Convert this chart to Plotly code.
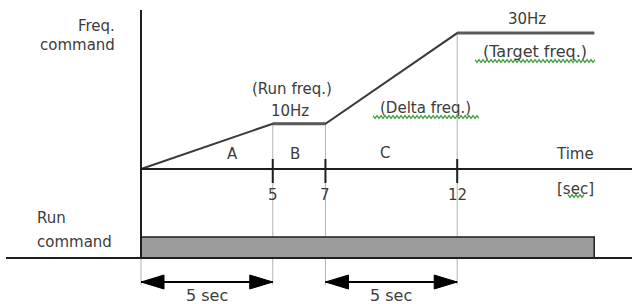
import plotly.graph_objects as go

# ---------------- data ----------------
times = [0, 5, 7, 12, 17.2]          # s
freq_cmd = [0, 10, 10, 30, 30]       # Hz
tick_times = [5, 7, 12]
tick_labels = ["5", "7", "12"]
run_start = 0
run_end = 17.2
intervals = [(0, 5), (7, 12)]
interval_labels = ["5 sec", "5 sec"]
run_freq = 10
target_freq = 30

# ---------------- geometry helpers (pixel -> data) ----------------
W, H = 632, 304
X0, SX = 141.0, 26.35     # px of t=0, px per second
Y0, SY = 169.0, 4.53      # px of f=0, px per Hz


def tx(px):
    return (px - X0) / SX


def fy(py):
    return (Y0 - py) / SY


def dx(px):
    return px / SX


def dy(px):
    return px / SY


DARK = "#1e1e1e"
TXT = "#3c3c3c"
THIN = "#b4b4b4"
FONT = "DejaVu Sans"

fig = go.Figure()

shapes = []
# thin guide lines (drawn first, below everything)
guide_bottom = fy(285)
for t, f in zip(times[1:4], freq_cmd[1:4]):
    shapes.append(dict(type="line", x0=t, x1=t, y0=f, y1=guide_bottom,
                       line=dict(color=THIN, width=1), layer="below"))
shapes.append(dict(type="line", x0=run_start, x1=run_start, y0=fy(258), y1=guide_bottom,
                   line=dict(color=THIN, width=1), layer="below"))

# run-command bar
bar_top, bar_bot = fy(237), fy(258)
shapes.append(dict(type="rect", x0=run_start, x1=run_end, y0=bar_bot, y1=bar_top,
                   fillcolor="#9c9c9c", line=dict(color=DARK, width=1.5)))
# baseline of run command
shapes.append(dict(type="line", x0=tx(6), x1=tx(W + 2), y0=bar_bot, y1=bar_bot,
                   line=dict(color=DARK, width=2)))
# time axis
shapes.append(dict(type="line", x0=0, x1=tx(W + 2), y0=0, y1=0,
                   line=dict(color=DARK, width=2)))
# frequency axis (vertical)
shapes.append(dict(type="line", x0=0, x1=0, y0=fy(10), y1=bar_bot,
                   line=dict(color=DARK, width=2)))
# tick marks
for t in tick_times:
    shapes.append(dict(type="line", x0=t, x1=t, y0=fy(159), y1=fy(183),
                       line=dict(color=DARK, width=2)))


# green "spell-check" squiggles under some labels (pixel positions)
def squiggle(x1, x2, y, step=2.0, amp=1.4):
    pts = []
    x, k = x1, 0
    while x <= x2:
        yy = y + (amp if k % 2 else -amp)
        pts.append(f"{x / W:.5f},{1 - yy / H:.5f}")
        x += step
        k += 1
    return dict(type="path", xref="paper", yref="paper",
                path="M" + "L".join(pts), line=dict(color="#3f9f3f", width=1.2))


shapes.append(squiggle(373, 479, 117))
shapes.append(squiggle(475, 595, 61))
shapes.append(squiggle(568, 584, 196))

fig.update_layout(shapes=shapes)

# frequency command curve
fig.add_trace(go.Scatter(x=times, y=freq_cmd, mode="lines",
                         line=dict(color="#3a3a3a", width=2), hoverinfo="skip"))
# flat (constant-speed) parts are drawn a bit thicker/greyer
fig.add_trace(go.Scatter(x=times[1:3], y=freq_cmd[1:3], mode="lines",
                         line=dict(color="#5a5a5a", width=3), hoverinfo="skip"))
fig.add_trace(go.Scatter(x=times[3:5], y=freq_cmd[3:5], mode="lines",
                         line=dict(color="#5a5a5a", width=3), hoverinfo="skip"))

# double arrows
arrow_y = fy(282)
head_len, head_half = dx(23), dy(7)
for a, b in intervals:
    fig.add_trace(go.Scatter(x=[a, b], y=[arrow_y, arrow_y], mode="lines",
                             line=dict(color="#000", width=2), hoverinfo="skip"))
    xs = [a, a + head_len, a + head_len, a, None, b, b - head_len, b - head_len, b]
    ys = [arrow_y, arrow_y + head_half, arrow_y - head_half, arrow_y, None,
          arrow_y, arrow_y + head_half, arrow_y - head_half, arrow_y]
    fig.add_trace(go.Scatter(x=xs, y=ys, mode="lines", fill="toself",
                             fillcolor="#000", line=dict(color="#000", width=1),
                             hoverinfo="skip"))

ann = []


def txt(text, px, py, anchor="center", size=15, color=TXT):
    ann.append(dict(text=text, x=px / W, y=1 - py / H, xref="paper", yref="paper",
                    xanchor=anchor, yanchor="middle", showarrow=False,
                    font=dict(family=FONT, size=size, color=color)))


txt("Freq.", 117, 26, "right")
txt("command", 117, 45, "right")
txt("Run", 35, 218, "left")
txt("command", 35, 242, "left")
txt("(Run freq.)", 292, 89)
txt(f"{run_freq}Hz", 290, 111)
txt("(Delta freq.)", 425, 108)
txt(f"{target_freq}Hz", 527, 19)
txt("(Target freq.)", 535, 52, size=16)
txt("A", 232, 154)
txt("B", 295, 154)
txt("C", 385, 153)
txt("Time", 575, 154)
txt("[sec]", 575, 189)

for t, lab in zip(tick_times, tick_labels):
    ann.append(dict(text=lab, x=t, y=fy(195), xref="x", yref="y",
                    xanchor="center", yanchor="middle", showarrow=False,
                    font=dict(family=FONT, size=15, color=TXT)))
for (a, b), lab in zip(intervals, interval_labels):
    ann.append(dict(text=lab, x=(a + b) / 2, y=fy(295), xref="x", yref="y",
                    xanchor="center", yanchor="middle", showarrow=False,
                    font=dict(family=FONT, size=16, color=TXT)))

fig.update_layout(
    annotations=ann,
    width=W, height=H,
    margin=dict(l=0, r=0, t=0, b=0),
    paper_bgcolor="white", plot_bgcolor="white",
    showlegend=False,
    xaxis=dict(range=[tx(0), tx(W)], visible=False, fixedrange=True),
    yaxis=dict(range=[fy(H), fy(0)], visible=False, fixedrange=True),
)

fig.write_html("out.html", config={"displayModeBar": False},
               post_script="document.body.style.margin='0';"
                           "document.body.style.overflow='hidden';")
